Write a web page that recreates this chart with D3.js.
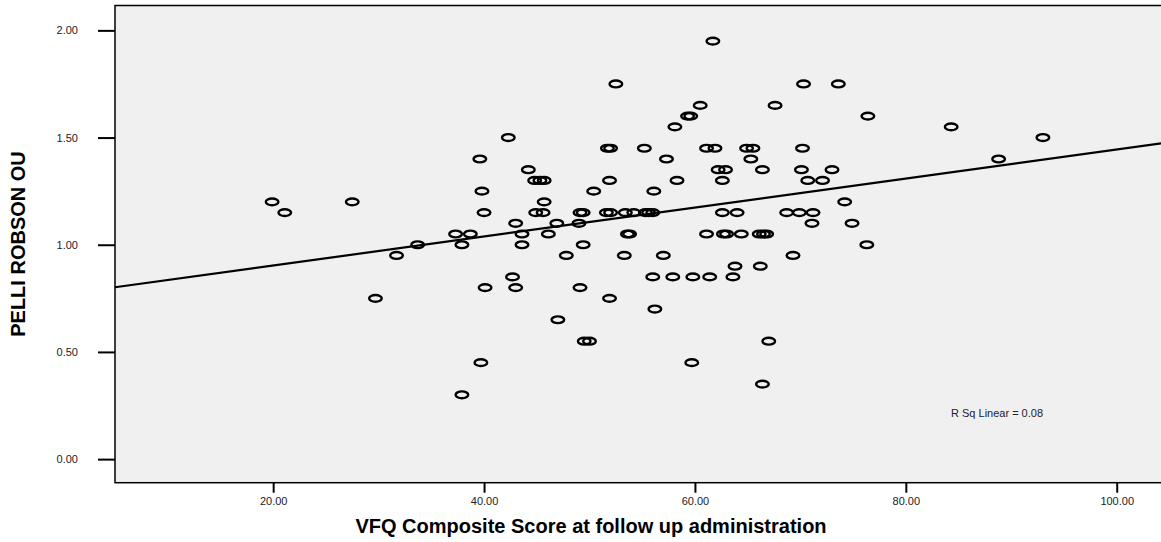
<!DOCTYPE html>
<html>
<head>
<meta charset="utf-8">
<script src="https://cdn.jsdelivr.net/npm/d3@7"></script>
<style>
  body { margin: 0; background: #fff; }
  svg { display: block; font-family: Arial, "Liberation Sans", sans-serif; }
</style>
</head>
<body>
<svg></svg>
<script>
var w = 1161;
var h = 542;

// VFQ composite score, grouped by Pelli Robson level (top to bottom)
var vfqScore = [
  61.7,
  52.5, 70.3, 73.6,
  60.5, 67.6,
  59.3, 59.6, 76.4,
  58.1, 84.3,
  42.3, 93.0,
  51.7, 52.0, 55.2, 61.1, 61.9, 64.9, 65.5, 70.2,
  39.6, 57.3, 65.3, 88.8,
  44.2, 62.2, 62.9, 66.4, 70.1, 73.0,
  44.8, 45.3, 45.7, 51.9, 58.3, 62.6, 70.7, 72.1,
  39.8, 50.4, 56.1,
  19.9, 27.5, 45.7, 74.2,
  21.1, 40.0, 44.9, 45.6, 49.1, 49.4, 51.6, 52.0, 53.4, 54.2, 55.3, 55.6, 56.0, 62.6, 64.0, 68.7, 69.9, 71.2,
  43.0, 46.9, 49.0, 71.1, 74.9,
  37.3, 38.7, 43.6, 46.1, 53.6, 53.8, 61.1, 62.7, 63.0, 64.4, 66.1, 66.5, 66.8,
  33.7, 37.9, 43.6, 49.4, 76.3,
  31.7, 47.8, 53.3, 57.0, 69.3,
  63.8, 66.2,
  42.7, 56.0, 57.9, 59.8, 61.4, 63.6,
  40.1, 43.0, 49.1,
  29.7, 51.9,
  56.2,
  47.0,
  49.5, 50.0, 67.0,
  39.7, 59.7,
  66.4,
  37.9
];

var pelliRobson = [
  1.95,
  1.75, 1.75, 1.75,
  1.65, 1.65,
  1.60, 1.60, 1.60,
  1.55, 1.55,
  1.50, 1.50,
  1.45, 1.45, 1.45, 1.45, 1.45, 1.45, 1.45, 1.45,
  1.40, 1.40, 1.40, 1.40,
  1.35, 1.35, 1.35, 1.35, 1.35, 1.35,
  1.30, 1.30, 1.30, 1.30, 1.30, 1.30, 1.30, 1.30,
  1.25, 1.25, 1.25,
  1.20, 1.20, 1.20, 1.20,
  1.15, 1.15, 1.15, 1.15, 1.15, 1.15, 1.15, 1.15, 1.15, 1.15, 1.15, 1.15, 1.15, 1.15, 1.15, 1.15, 1.15, 1.15,
  1.10, 1.10, 1.10, 1.10, 1.10,
  1.05, 1.05, 1.05, 1.05, 1.05, 1.05, 1.05, 1.05, 1.05, 1.05, 1.05, 1.05, 1.05,
  1.00, 1.00, 1.00, 1.00, 1.00,
  0.95, 0.95, 0.95, 0.95, 0.95,
  0.90, 0.90,
  0.85, 0.85, 0.85, 0.85, 0.85, 0.85,
  0.80, 0.80, 0.80,
  0.75, 0.75,
  0.70,
  0.65,
  0.55, 0.55, 0.55,
  0.45, 0.45,
  0.35,
  0.30
];

var xTicks = [20, 40, 60, 80, 100];
var yTicks = [0, 0.5, 1, 1.5, 2];
var fitLabel = "R Sq Linear = 0.08";

var plotLeft = 115, plotRight = 1162, plotTop = 5.5, plotBottom = 482.7;

var x = d3.scaleLinear().domain([5, 104.2]).range([115, 1161]);
var y = d3.scaleLinear().domain([-0.11, 2.116]).range([plotBottom, plotTop]);

var svg = d3.select("svg").attr("width", w).attr("height", h);

svg.append("rect")
  .attr("x", plotLeft)
  .attr("y", plotTop)
  .attr("width", plotRight - plotLeft)
  .attr("height", plotBottom - plotTop)
  .style("fill", "#f0f0f0")
  .style("stroke", "#000")
  .style("stroke-width", 1.5);

// x axis
var xAxis = svg.append("g")
  .attr("transform", "translate(0," + plotBottom + ")")
  .call(d3.axisBottom(x).tickValues(xTicks).tickFormat(d3.format(".2f")).tickSize(10).tickPadding(5));

// y axis
var yAxis = svg.append("g")
  .attr("transform", "translate(" + plotLeft + ",0)")
  .call(d3.axisLeft(y).tickValues(yTicks).tickFormat(d3.format(".2f")).tickSize(17).tickPadding(20));

[xAxis, yAxis].forEach(function (g) {
  g.select(".domain").remove();
  g.selectAll(".tick line").style("stroke", "#000").style("stroke-width", 2);
  g.selectAll(".tick text")
    .style("font-family", "Arial, 'Liberation Sans', sans-serif")
    .style("font-size", "11px")
    .style("fill", "#222");
});

// linear fit from the points
var mx = d3.mean(vfqScore);
var my = d3.mean(pelliRobson);
var sxy = d3.sum(vfqScore, function (d, i) { return (d - mx) * (pelliRobson[i] - my); });
var sxx = d3.sum(vfqScore, function (d) { return (d - mx) * (d - mx); });
var slope = sxy / sxx;
var intercept = my - slope * mx;

var x0 = x.invert(plotLeft), x1 = x.invert(plotRight);
svg.append("line")
  .attr("x1", x(x0))
  .attr("y1", y(intercept + slope * x0))
  .attr("x2", x(x1))
  .attr("y2", y(intercept + slope * x1))
  .style("stroke", "#000")
  .style("stroke-width", 2.2);

svg.selectAll("ellipse")
  .data(vfqScore)
  .enter()
  .append("ellipse")
  .attr("cx", function (d) { return x(d); })
  .attr("cy", function (d, i) { return y(pelliRobson[i]); })
  .attr("rx", 6.3)
  .attr("ry", 3.4)
  .style("fill", "none")
  .style("stroke", "#000")
  .style("stroke-width", 2.4);

svg.append("text")
  .attr("x", 951)
  .attr("y", 416.5)
  .text(fitLabel)
  .style("font-size", "11px")
  .style("fill", "#222");

svg.append("text")
  .attr("x", 591)
  .attr("y", 533)
  .attr("text-anchor", "middle")
  .text("VFQ Composite Score at follow up administration")
  .style("font-size", "20px")
  .style("font-weight", "bold");

svg.append("text")
  .attr("transform", "rotate(-90)")
  .attr("x", -244)
  .attr("y", 25)
  .attr("text-anchor", "middle")
  .text("PELLI ROBSON OU")
  .style("font-size", "20px")
  .style("font-weight", "bold");
</script>
</body>
</html>
